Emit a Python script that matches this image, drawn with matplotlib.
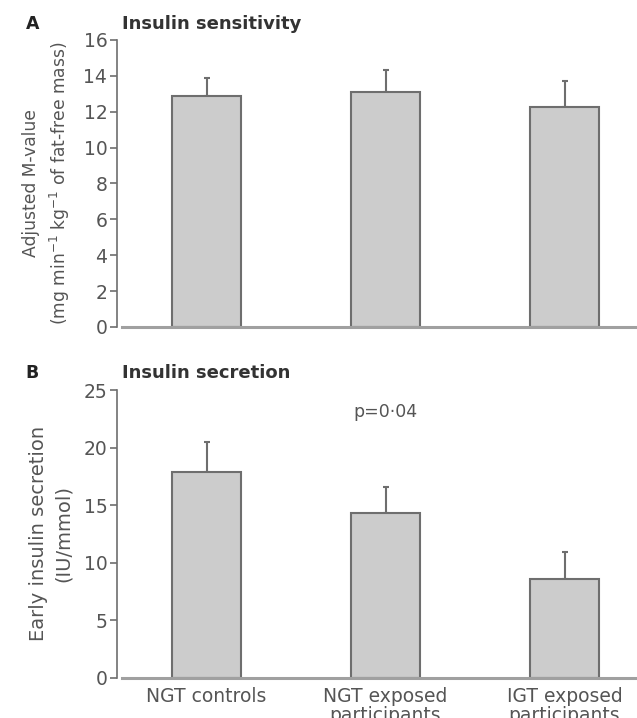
import matplotlib
matplotlib.use("Agg")
import matplotlib.pyplot as plt
import numpy as np

groups = ["NGT controls", "NGT exposed\nparticipants", "IGT exposed\nparticipants"]
sens_mean = [12.9, 13.1, 12.25]
sens_err = [1.0, 1.25, 1.45]
sec_mean = [17.9, 14.3, 8.6]
sec_err = [2.6, 2.3, 2.3]
sens_ticks = [0, 2, 4, 6, 8, 10, 12, 14, 16]
sec_ticks = [0, 5, 10, 15, 20, 25]

GRAY = "#6e6e6e"
TXT = "#555555"
fig = plt.figure(figsize=(6.37, 7.18), dpi=100)

axA = fig.add_axes([0.1837, 0.5446, 1 - 0.1837, 0.3997])
axB = fig.add_axes([0.1837, 0.0561, 1 - 0.1837, 0.4007])

x = np.arange(len(groups))

def style(ax, means, errs, ticks, ylim):
    ax.bar(x, means, width=0.385, color="#cccccc", edgecolor=GRAY, linewidth=1.5, zorder=2)
    ax.errorbar(x, means, yerr=[np.zeros(len(errs)), errs], fmt="none", ecolor=GRAY,
                elinewidth=1.5, capsize=2, capthick=1.5, zorder=1)
    ax.set_xlim(-0.5, 2.405)
    ax.set_ylim(*ylim)
    ax.set_yticks(ticks)
    for s in ["top", "right", "bottom"]:
        ax.spines[s].set_visible(False)
    ax.spines["left"].set_color(GRAY)
    ax.spines["left"].set_linewidth(1.2)
    ax.axhline(0, xmin=0.01, xmax=1, color="#a0a0a0", lw=2.2, zorder=3, clip_on=False)
    ax.tick_params(axis="y", direction="out", length=5, width=1.2, color=GRAY,
                   labelcolor=TXT, labelsize=13.5, pad=2)
    ax.patch.set_alpha(0)

style(axA, sens_mean, sens_err, sens_ticks, (0, 16))
style(axB, sec_mean, sec_err, sec_ticks, (0, 25))

axA.set_xticks([])
axB.set_xticks(x)
axB.set_xticklabels(groups, fontsize=13.5, color=TXT, linespacing=1.0)
axB.tick_params(axis="x", length=0, pad=7)

axA.set_ylabel("Adjusted M-value\n(mg min$^{-1}$ kg$^{-1}$ of fat-free mass)",
               fontsize=12.3, color=TXT, labelpad=8, linespacing=1.45)
axB.set_ylabel("Early insulin secretion\n(IU/mmol)", fontsize=14, color=TXT,
               labelpad=8, linespacing=1.35)

fig.text(0.04, 0.966, "A", fontsize=12.5, fontweight="bold", color="#222222", va="center")
fig.text(0.191, 0.966, "Insulin sensitivity", fontsize=13, fontweight="bold", color="#333333", va="center")
fig.text(0.04, 0.481, "B", fontsize=12.5, fontweight="bold", color="#222222", va="center")
fig.text(0.191, 0.481, "Insulin secretion", fontsize=13, fontweight="bold", color="#333333", va="center")

axB.text(1, 23.1, "p=0·04", fontsize=12.5, color=TXT, ha="center", va="center")

fig.savefig("out.png", dpi=100)
